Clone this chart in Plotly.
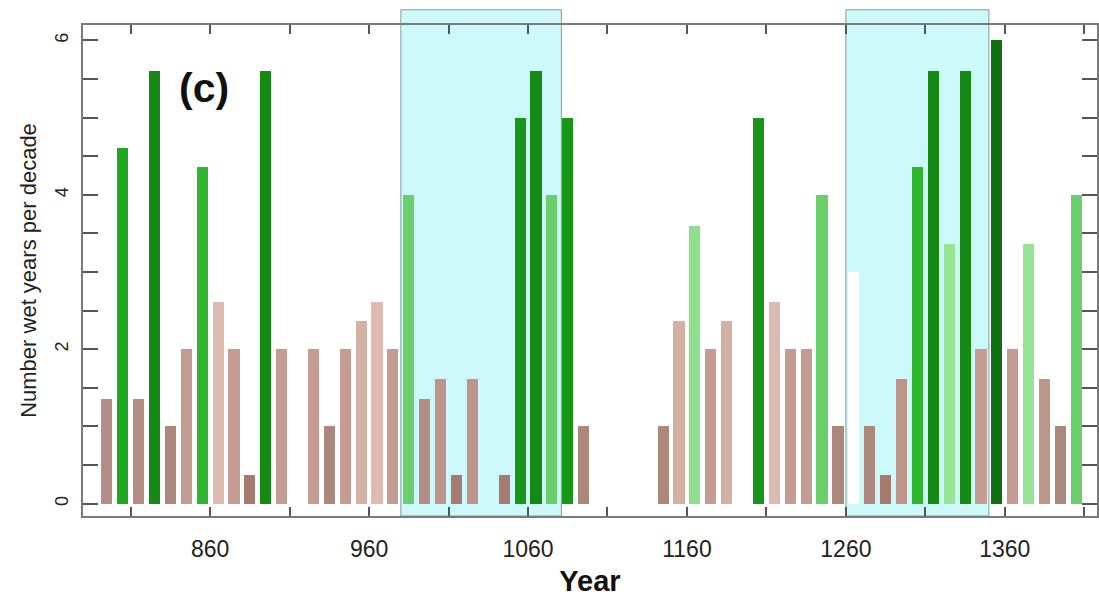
import plotly.graph_objects as go

# Decade mid-years and number of wet years per decade
years = [795, 805, 815, 825, 835, 845, 855, 865, 875, 885, 895, 905,
         925, 935, 945, 955, 965, 975, 985, 995, 1005, 1015, 1025,
         1045, 1055, 1065, 1075, 1085, 1095,
         1145, 1155, 1165, 1175, 1185,
         1205, 1215, 1225, 1235, 1245, 1255, 1265, 1275, 1285, 1295,
         1305, 1315, 1325, 1335, 1345, 1355, 1365, 1375, 1385, 1395, 1405]
wet_years = [1.36, 4.61, 1.36, 5.61, 1.0, 2.0, 4.36, 2.61, 2.0, 0.37, 5.61, 2.0,
             2.0, 1.0, 2.0, 2.36, 2.61, 2.0, 4.0, 1.36, 1.61, 0.37, 1.61,
             0.37, 5.0, 5.61, 4.0, 5.0, 1.0,
             1.0, 2.36, 3.6, 2.0, 2.36,
             5.0, 2.61, 2.0, 2.0, 4.0, 1.0, 3.0, 1.0, 0.37, 1.61,
             4.36, 5.61, 3.36, 5.61, 2.0, 6.0, 2.0, 3.36, 1.61, 1.0, 4.0]

# Shaded periods (start year, end year)
shade_start = [980, 1260]
shade_end = [1081, 1350]

# Axis ticks
x_tick_vals = list(range(810, 1411, 50))
x_tick_labels = [str(v) if (v - 860) % 100 == 0 else "" for v in x_tick_vals]
y_tick_vals = [i * 0.5 for i in range(13)]
y_tick_labels = [str(int(v)) if v in (0, 2, 4, 6) else "" for v in y_tick_vals]

# Brown -> white -> green diverging colour scale (value / 6)
colorscale = [
    [0.00, "#9c6f63"],
    [0.06, "#a57b6f"],
    [0.167, "#ab877c"],
    [0.227, "#b48e84"],
    [0.27, "#bd9589"],
    [0.333, "#c49c91"],
    [0.393, "#d5b0a5"],
    [0.435, "#ddbbb1"],
    [0.50, "#ffffff"],
    [0.56, "#96e496"],
    [0.60, "#8ee08e"],
    [0.667, "#6bcf6b"],
    [0.727, "#30b530"],
    [0.768, "#20a820"],
    [0.833, "#17961a"],
    [0.935, "#148a14"],
    [1.00, "#0f6e10"],
]

FONT = "Liberation Sans, Arial, sans-serif"

fig = go.Figure()
fig.add_trace(go.Bar(
    x=years, y=wet_years, width=7,
    marker=dict(color=wet_years, colorscale=colorscale, cmin=0, cmax=6,
                line=dict(width=0)),
    showlegend=False,
))

for s, e in zip(shade_start, shade_end):
    fig.add_shape(type="rect", xref="x", yref="paper", x0=s, x1=e, y0=0, y1=1.031,
                  fillcolor="#cdf9fb", line=dict(color="#7f9c9e", width=1),
                  layer="below")

fig.add_annotation(x=856, y=5.38, xref="x", yref="y", text="<b>(c)</b>",
                   showarrow=False, font=dict(size=41, color="#111111", family=FONT))

axis_common = dict(showline=True, linecolor="#7a7a7a", linewidth=1.5, mirror="ticks",
                   ticks="inside", tickcolor="#555555", tickwidth=1.5,
                   showgrid=False, zeroline=False)

fig.update_xaxes(range=[780, 1418], tickmode="array", tickvals=x_tick_vals,
                 ticktext=x_tick_labels, ticklen=9, ticklabelstandoff=12,
                 tickfont=dict(size=23, color="#222222", family=FONT),
                 title=dict(text="<b>Year</b>", standoff=10,
                            font=dict(size=29, color="#111111", family=FONT)),
                 **axis_common)
fig.update_yaxes(range=[-0.16, 6.2], tickmode="array", tickvals=y_tick_vals,
                 ticktext=y_tick_labels, ticklen=15, tickangle=-90, ticklabelstandoff=6,
                 tickfont=dict(size=18, color="#222222", family=FONT),
                 title=dict(text="Number wet years per decade", standoff=9,
                            font=dict(size=22, color="#222222", family=FONT)),
                 **axis_common)

fig.update_layout(width=1099, height=597, margin=dict(l=83, r=0, t=25, b=81),
                  plot_bgcolor="white", paper_bgcolor="white", bargap=0)

fig.write_html("out.html")
